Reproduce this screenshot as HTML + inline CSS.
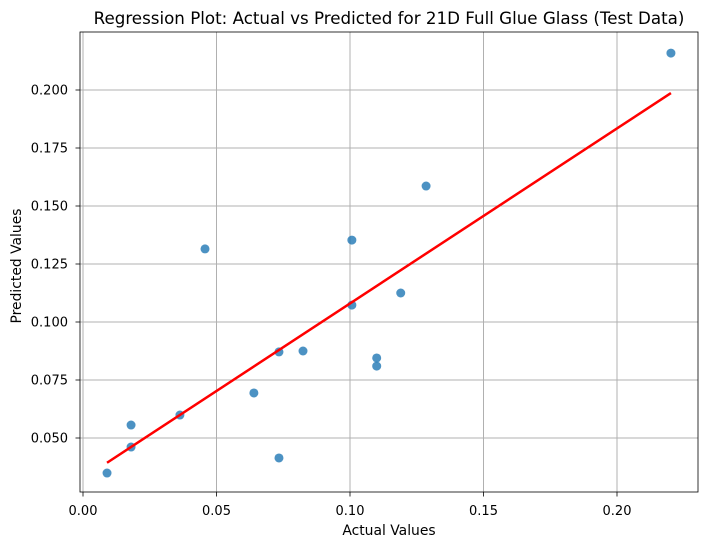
<!DOCTYPE html>
<html><head><meta charset="utf-8">
<style>
body{margin:0;background:#fff;font-family:"Liberation Sans","DejaVu Sans",sans-serif;}
svg text{font-family:"DejaVu Sans","Liberation Sans",sans-serif;fill:#000;}
</style></head>
<body>
<svg id="chart" width="708" height="547" xmlns="http://www.w3.org/2000/svg"></svg>
<script>
const actualValues=[0.009,0.018,0.018,0.0363,0.0457,0.064,0.0734,0.0734,0.0824,0.1007,0.1007,0.110,0.110,0.119,0.1285,0.2202];
const predictedValues=[0.0349,0.0556,0.0461,0.0599,0.1315,0.0694,0.0871,0.0414,0.0875,0.1353,0.1073,0.0845,0.081,0.1125,0.1586,0.2159];
const xTicks=[0.00,0.05,0.10,0.15,0.20];
const xTickLabels=["0.00","0.05","0.10","0.15","0.20"];
const yTicks=[0.050,0.075,0.100,0.125,0.150,0.175,0.200];
const yTickLabels=["0.050","0.075","0.100","0.125","0.150","0.175","0.200"];

const NS="http://www.w3.org/2000/svg";
const svg=document.getElementById('chart');
const L=80,R=698,T=32,B=492;
function sx(v){return 83+v*2670;}
function sy(v){return 438-(v-0.05)*2320;}
function mk(tag,attrs,parent){const e=document.createElementNS(NS,tag);for(const k in attrs)e.setAttribute(k,attrs[k]);(parent||svg).appendChild(e);return e;}

xTicks.forEach((t,i)=>{
  const g=mk('line',{x1:sx(t),x2:sx(t),y1:T,y2:B,stroke:'#b0b0b0','stroke-width':1});
  
  
  mk('line',{x1:sx(t),x2:sx(t),y1:B,y2:B+4.5,stroke:'#000','stroke-width':0.8});
  const tx=mk('text',{x:sx(t),y:515,'text-anchor':'middle','font-size':13});
  tx.textContent=xTickLabels[i];
  
  
});
yTicks.forEach((t,i)=>{
  const g=mk('line',{x1:L,x2:R,y1:sy(t),y2:sy(t),stroke:'#b0b0b0','stroke-width':1});
  
  
  mk('line',{x1:L-4.5,x2:L,y1:sy(t),y2:sy(t),stroke:'#000','stroke-width':0.8});
  const tx=mk('text',{x:68,y:sy(t)+4.7,'text-anchor':'end','font-size':13});
  tx.textContent=yTickLabels[i];
  
  
});

actualValues.forEach((a,i)=>{
  const c=mk('circle',{cx:sx(a),cy:sy(predictedValues[i]),r:4.5,fill:'#1f77b4','fill-opacity':0.8});
  
  
});

const n=actualValues.length;
const mx=actualValues.reduce((s,v)=>s+v,0)/n, my=predictedValues.reduce((s,v)=>s+v,0)/n;
let sxy=0,sxx=0;for(let i=0;i<n;i++){sxy+=(actualValues[i]-mx)*(predictedValues[i]-my);sxx+=(actualValues[i]-mx)**2;}
const slope=sxy/sxx, icpt=my-slope*mx;
const x0=Math.min(...actualValues), x1=Math.max(...actualValues);
const rl=mk('line',{x1:sx(x0),y1:sy(icpt+slope*x0),x2:sx(x1),y2:sy(icpt+slope*x1),stroke:'#ff0000','stroke-width':2.5});



const fr=mk('rect',{x:L,y:T,width:R-L,height:B-T,fill:'none',stroke:'#000','stroke-width':0.8});



const title=mk('text',{x:389,y:24,'text-anchor':'middle','font-size':16.7});
title.textContent='Regression Plot: Actual vs Predicted for 21D Full Glue Glass (Test Data)';


const xl=mk('text',{x:389,y:535,'text-anchor':'middle','font-size':13.9});
xl.textContent='Actual Values';


const yl=mk('text',{x:0,y:0,'text-anchor':'middle','font-size':13.9,transform:'translate(21,266) rotate(-90)'});
yl.textContent='Predicted Values';


</script>
</body></html>
